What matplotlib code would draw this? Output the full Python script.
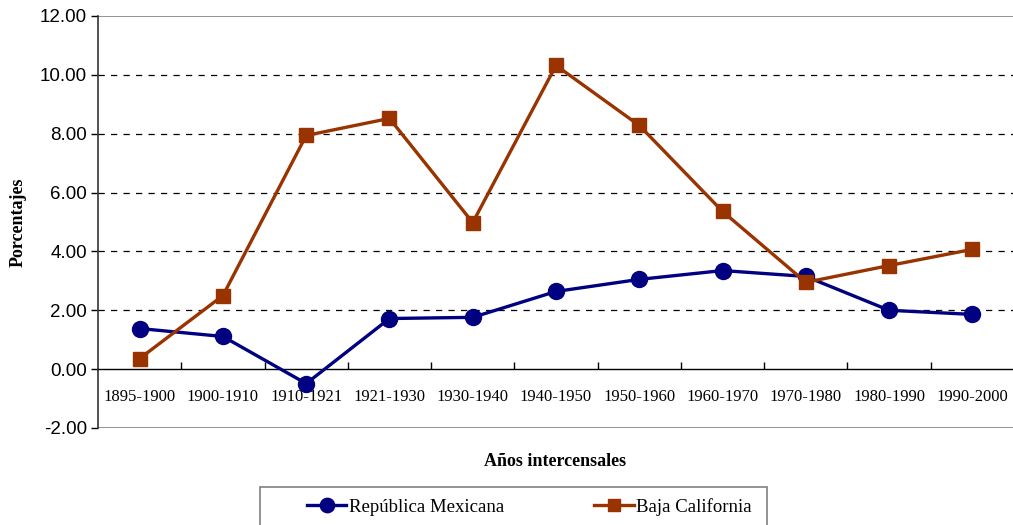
import matplotlib
matplotlib.use("Agg")
import matplotlib.pyplot as plt
from matplotlib.patches import Rectangle

# -------------------------
# Data
# -------------------------
periodos = ["1895-1900", "1900-1910", "1910-1921", "1921-1930", "1930-1940",
            "1940-1950", "1950-1960", "1960-1970", "1970-1980", "1980-1990",
            "1990-2000"]
mexico = [1.38, 1.11, -0.49, 1.72, 1.76, 2.64, 3.05, 3.35, 3.15, 2.00, 1.86]
baja = [0.36, 2.50, 7.94, 8.52, 4.98, 10.32, 8.28, 5.36, 2.95, 3.52, 4.07]
yticks = [-2, 0, 2, 4, 6, 8, 10, 12]

W, H = 1013, 525
serif = "Liberation Serif"
sans = "Liberation Sans"

fig = plt.figure(figsize=(W / 100, H / 100), dpi=100)
ax = fig.add_axes([98 / W, 1 - 428 / H, (1014 - 98) / W, (428 - 16) / H])

x = list(range(len(periodos)))
ax.plot(x, mexico, color="#000080", lw=2.4, marker="o", ms=11.5,
        label="República Mexicana", zorder=3)
ax.plot(x, baja, color="#993300", lw=2.4, marker="s", ms=10,
        label="Baja California", zorder=3)

ax.set_xlim(-0.5, len(periodos) - 0.5)
ax.set_ylim(-2, 12)

# dashed grid
for v in [2, 4, 6, 8, 10]:
    ax.axhline(v, color="black", lw=0.9, ls=(0, (5, 5)), zorder=1)
ax.axhline(12, color="#808080", lw=1.2, zorder=1)
ax.axhline(-2, color="#808080", lw=1.2, zorder=1)

for s in ["top", "right"]:
    ax.spines[s].set_visible(False)
ax.spines["left"].set_color("#333333")
ax.spines["left"].set_linewidth(1.2)
ax.spines["bottom"].set_position(("data", 0))
ax.spines["bottom"].set_color("black")
ax.spines["bottom"].set_linewidth(1.0)

ax.set_yticks(yticks)
ax.set_yticklabels([f"{v:.2f}" for v in yticks], fontfamily=sans, fontsize=13.5)
ax.tick_params(axis="y", direction="out", length=5, width=1, pad=3)

ax.set_xticks(x)
ax.set_xticklabels(periodos, fontfamily=serif, fontsize=12)
ax.set_xticks([i + 0.5 for i in x[:-1]], minor=True)
ax.tick_params(axis="x", which="major", length=0, pad=14)
ax.tick_params(axis="x", which="minor", direction="in", length=5, width=1)

fig.text(18 / W, 1 - 222 / H, "Porcentajes", rotation=90, ha="center",
         va="center", fontfamily=serif, fontweight="bold", fontsize=13)
fig.text(555 / W, 1 - 461 / H, "Años intercensales", ha="center",
         va="center", fontfamily=serif, fontweight="bold", fontsize=13)

# legend box (cut by the bottom edge like the original)
fig.patches.append(Rectangle((260 / W, -0.05), (767 - 260) / W,
                             1 - 487 / H + 0.05, transform=fig.transFigure,
                             fill=False, edgecolor="#808080", lw=1.2))
handles, labels = ax.get_legend_handles_labels()
fig.legend(handles, labels, loc="center left", ncol=2, frameon=False,
           bbox_to_anchor=(290 / W, 1 - 507 / H), prop={"family": serif, "size": 13.5},
           markerscale=0.9, handlelength=2.1, handletextpad=0.15,
           columnspacing=4.8)

fig.savefig("out.png", dpi=100)
